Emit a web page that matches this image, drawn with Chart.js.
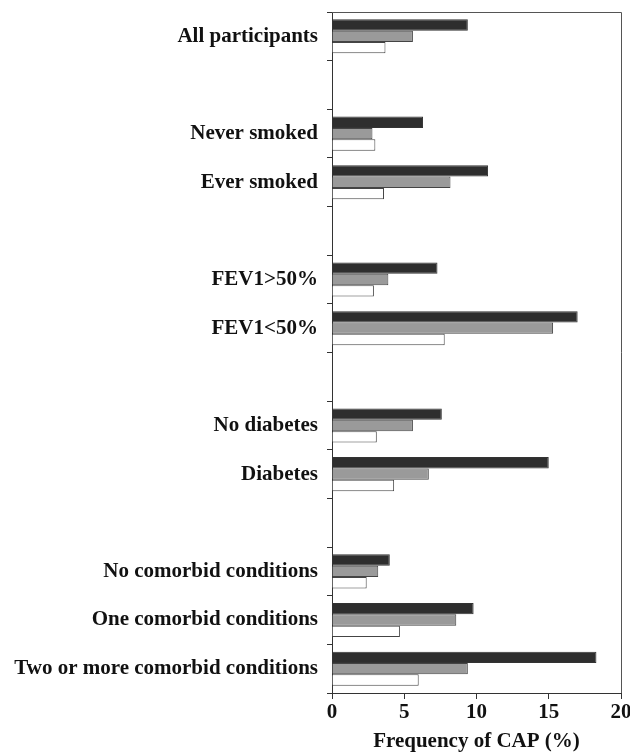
<!DOCTYPE html>
<html>
<head>
<meta charset="utf-8">
<script src="https://cdn.jsdelivr.net/npm/chart.js@4.4.1/dist/chart.umd.min.js"></script>
<style>
  html, body { margin: 0; padding: 0; background: #ffffff; }
  #wrap { width: 630px; height: 752px; }
</style>
</head>
<body>
<div id="wrap"><canvas id="c" width="630" height="752"></canvas></div>
<script>
const categories = [
  "All participants", "",
  "Never smoked", "Ever smoked", "",
  "FEV1>50%", "FEV1<50%", "",
  "No diabetes", "Diabetes", "",
  "No comorbid conditions", "One comorbid conditions", "Two or more comorbid conditions"
];
const seriesDark  = [9.4, null, 6.3, 10.8, null, 7.3, 17.0, null, 7.6, 15.0, null, 4.0, 9.8, 18.3];
const seriesGray  = [5.6, null, 2.8, 8.2, null, 3.9, 15.3, null, 5.6, 6.7, null, 3.2, 8.6, 9.4];
const seriesWhite = [3.7, null, 3.0, 3.6, null, 2.9, 7.8, null, 3.1, 4.3, null, 2.4, 4.7, 6.0];
const xTicks = [0, 5, 10, 15, 20];
const xTitle = "Frequency of CAP (%)";

const FONT = "'Liberation Serif', 'Times New Roman', serif";
const INK = "#333333";

const framePlugin = {
  id: 'frame',
  afterDraw(chart) {
    const { ctx, chartArea: a } = chart;
    ctx.save();
    ctx.strokeStyle = "#555555";
    ctx.lineWidth = 1;
    ctx.beginPath();
    ctx.moveTo(a.left, a.top + 0.5);
    ctx.lineTo(a.right + 0.5, a.top + 0.5);
    ctx.lineTo(a.right + 0.5, a.bottom);
    ctx.stroke();
    ctx.restore();
  }
};

new Chart(document.getElementById('c'), {
  type: 'bar',
  data: {
    labels: categories,
    datasets: [
      { data: seriesDark,  backgroundColor: "#2e2e2e", borderColor: "#333333", borderWidth: 1 },
      { data: seriesGray,  backgroundColor: "#9a9a9a", borderColor: "#444444", borderWidth: 1 },
      { data: seriesWhite, backgroundColor: "#ffffff", borderColor: "#444444", borderWidth: 1 }
    ]
  },
  options: {
    indexAxis: 'y',
    responsive: false,
    animation: false,
    layout: { padding: { top: 12, right: 9, left: 0, bottom: 0 } },
    datasets: { bar: { categoryPercentage: 0.7, barPercentage: 1.0, skipNull: false } },
    plugins: { legend: { display: false }, tooltip: { enabled: false } },
    scales: {
      y: {
        type: 'category',
        offset: true,
        grid: { display: true, drawOnChartArea: false, drawTicks: true, tickLength: 5, color: INK, offset: true },
        border: { display: true, color: INK, width: 1 },
        ticks: { color: "#111111", font: { family: FONT, size: 21, weight: 'bold' }, padding: 9, autoSkip: false },
        afterFit(scale) { scale.width = 332; scale.paddingTop = 0; scale.paddingBottom = 0; }
      },
      x: {
        type: 'linear',
        min: 0, max: 20,
        afterBuildTicks(scale) { scale.ticks = xTicks.map(v => ({ value: v })); },
        grid: { display: true, drawOnChartArea: false, drawTicks: true, tickLength: 6, color: INK },
        border: { display: true, color: INK, width: 1 },
        ticks: { color: "#111111", font: { family: FONT, size: 21, weight: 'bold' }, padding: 1 },
        title: { display: true, text: xTitle, color: "#111111", font: { family: FONT, size: 21, weight: 'bold', lineHeight: 1.0 }, padding: { top: 4, bottom: 0 } },
        afterFit(scale) { scale.height = 59; scale.paddingRight = 9; scale.paddingLeft = 0; }
      }
    }
  },
  plugins: [framePlugin]
});
</script>
</body>
</html>
